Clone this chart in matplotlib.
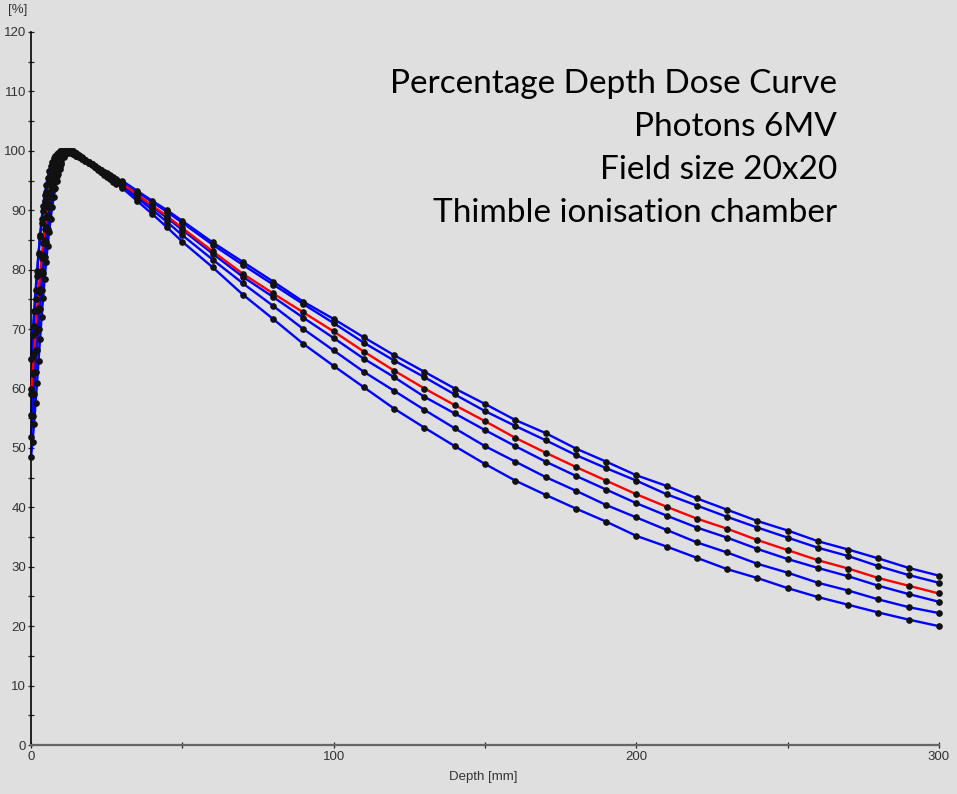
import matplotlib
matplotlib.use("Agg")
import matplotlib.pyplot as plt
from matplotlib.ticker import MultipleLocator

# depth positions of the measured points [mm]
depth = [0, 0.5, 1, 1.5, 2, 2.5, 3, 3.5, 4, 4.5, 5, 5.5, 6, 6.5, 7, 7.5,
         8, 8.5, 9, 9.5, 10,
         11, 12, 13, 14, 15, 16, 17, 18, 19, 20, 21, 22, 23, 24, 25, 26,
         27, 28,
         30, 35, 40, 45, 50, 60, 70, 80, 90, 100, 110, 120, 130, 140, 150,
         160, 170, 180, 190, 200, 210, 220, 230, 240, 250, 260, 270, 280,
         290, 300]

# relative dose [%] for each measured curve (top to bottom at depth)
pdd_a = [60.0, 65.5, 70.5, 75.0, 79.0, 82.7, 85.8, 88.5, 90.7, 92.6, 94.2,
         95.5, 96.6, 97.5, 98.2, 98.8, 99.2, 99.5, 99.7, 99.9, 100.0,
         100.0, 99.9, 99.7, 99.5, 99.2, 98.9, 98.6, 98.3, 98.0, 97.7, 97.4,
         97.1, 96.8, 96.5, 96.2, 95.9, 95.6, 95.3,
         95.0, 93.3, 91.6, 90.0, 88.2, 84.6, 81.3, 78.0, 74.6, 71.7, 68.6,
         65.6, 62.8, 60.0, 57.4, 54.7, 52.5, 49.9, 47.7, 45.4, 43.6, 41.5,
         39.6, 37.7, 36.1, 34.3, 32.9, 31.4, 29.8, 28.5]
pdd_b = [65.0, 69.0, 73.0, 76.5, 79.8, 82.8, 85.5, 87.8, 89.8, 91.6, 93.1,
         94.4, 95.5, 96.5, 97.3, 98.0, 98.6, 99.0, 99.4, 99.7, 99.9,
         100.0, 100.0, 99.8, 99.5, 99.2, 98.9, 98.6, 98.3, 98.0, 97.7, 97.3,
         97.0, 96.7, 96.4, 96.0, 95.7, 95.4, 95.1,
         94.8, 93.1, 91.4, 89.7, 87.9, 84.2, 80.8, 77.5, 74.2, 71.0, 67.7,
         64.7, 61.9, 59.0, 56.2, 53.7, 51.3, 48.8, 46.6, 44.5, 42.2, 40.3,
         38.4, 36.6, 34.9, 33.2, 31.8, 30.1, 28.6, 27.3]
pdd_ref = [59.0, 62.5, 66.0, 69.5, 73.0, 76.3, 79.3, 82.0, 84.5, 86.8, 88.8,
           90.6, 92.2, 93.6, 94.8, 95.8, 96.7, 97.5, 98.1, 98.7, 99.1,
           99.7, 100.0, 100.0, 99.8, 99.5, 99.2, 98.8, 98.5, 98.1, 97.8,
           97.4, 97.0, 96.7, 96.3, 95.9, 95.6, 95.2, 94.9,
           94.5, 92.7, 90.8, 89.0, 87.0, 83.1, 79.3, 76.0, 72.8, 69.6, 66.2,
           63.0, 60.0, 57.2, 54.5, 51.7, 49.2, 46.8, 44.5, 42.2, 40.1, 38.1,
           36.4, 34.5, 32.8, 31.1, 29.7, 28.1, 26.8, 25.5]
pdd_d = [55.5, 59.0, 62.7, 66.4, 70.0, 73.5, 76.8, 79.8, 82.5, 85.0, 87.2,
         89.2, 91.0, 92.6, 94.0, 95.2, 96.2, 97.1, 97.8, 98.4, 98.9,
         99.6, 99.9, 100.0, 99.8, 99.5, 99.2, 98.8, 98.5, 98.1, 97.7, 97.3,
         97.0, 96.6, 96.2, 95.8, 95.5, 95.1, 94.8,
         94.4, 92.5, 90.6, 88.7, 86.7, 82.7, 78.8, 75.4, 71.9, 68.5, 65.0,
         61.9, 58.6, 55.8, 53.0, 50.3, 47.7, 45.3, 43.0, 40.7, 38.6, 36.6,
         34.9, 33.0, 31.3, 29.8, 28.4, 26.8, 25.4, 24.1]
pdd_e = [51.8, 55.3, 59.0, 62.8, 66.5, 70.0, 73.4, 76.6, 79.5, 82.2, 84.6,
         86.8, 88.8, 90.6, 92.2, 93.6, 94.8, 95.8, 96.7, 97.5, 98.1,
         99.1, 99.7, 100.0, 99.9, 99.6, 99.2, 98.8, 98.4, 98.0, 97.6, 97.2,
         96.8, 96.4, 96.0, 95.6, 95.2, 94.8, 94.5,
         94.1, 92.1, 90.1, 88.0, 85.8, 81.7, 77.7, 73.9, 70.0, 66.4, 62.8,
         59.6, 56.4, 53.3, 50.3, 47.7, 45.1, 42.8, 40.4, 38.3, 36.2, 34.1,
         32.4, 30.5, 29.0, 27.3, 26.0, 24.5, 23.2, 22.2]
pdd_f = [48.4, 51.0, 54.0, 57.5, 61.0, 64.7, 68.4, 72.0, 75.3, 78.4, 81.3,
         84.0, 86.4, 88.6, 90.5, 92.2, 93.7, 95.0, 96.1, 97.0, 97.8,
         98.9, 99.6, 100.0, 100.0, 99.7, 99.3, 98.9, 98.4, 98.0, 97.7, 97.3,
         96.9, 96.5, 96.1, 95.7, 95.4, 95.0, 94.6,
         93.8, 91.6, 89.4, 87.1, 84.7, 80.4, 75.8, 71.7, 67.5, 63.8, 60.2,
         56.6, 53.4, 50.3, 47.3, 44.5, 42.1, 39.8, 37.6, 35.2, 33.4, 31.5,
         29.6, 28.1, 26.4, 24.9, 23.6, 22.3, 21.1, 20.0]

blue_curves = [pdd_a, pdd_b, pdd_d, pdd_e, pdd_f]

title_lines = ["Percentage Depth Dose Curve", "Photons 6MV",
               "Field size 20x20", "Thimble ionisation chamber"]

bg = "#dfdfdf"
W, H = 957, 794

fig = plt.figure(figsize=(W / 100, H / 100), dpi=100, facecolor=bg)
ax = fig.add_axes([31 / W, (H - 745) / H, 908 / W, 713 / H], facecolor=bg)

# blue curves first, the red one on top
for vals in blue_curves:
    ax.plot(depth, vals, color="#0000ff", lw=1.7, zorder=2, clip_on=False)
ax.plot(depth, pdd_ref, color="#ff0000", lw=1.7, zorder=3, clip_on=False)
for vals in blue_curves + [pdd_ref]:
    ax.plot(depth, vals, ls="none", marker="o", ms=3.8, mfc="#111111",
            mec="#111111", zorder=4, clip_on=False)

ax.set_xlim(0, 300)
ax.set_ylim(0, 120)

ax.xaxis.set_major_locator(MultipleLocator(100))
ax.xaxis.set_minor_locator(MultipleLocator(50))
ax.yaxis.set_major_locator(MultipleLocator(10))
ax.yaxis.set_minor_locator(MultipleLocator(5))

for s in ["top", "right"]:
    ax.spines[s].set_visible(False)
ax.spines["left"].set_color("black")
ax.spines["left"].set_linewidth(1.2)
ax.spines["bottom"].set_color("#666666")
ax.spines["bottom"].set_linewidth(1.6)

tick_font = {"family": "Liberation Sans", "size": 9.5}
ax.tick_params(which="both", direction="inout", length=5, width=0.9,
               color="#222222", labelcolor="#333333")
ax.tick_params(axis="y", pad=1)
ax.tick_params(axis="x", pad=2)
for lab in ax.get_xticklabels() + ax.get_yticklabels():
    lab.set_fontfamily("Liberation Sans")
    lab.set_fontsize(9.5)

fig.text(18 / W, 1 - 10 / H, "[%]", ha="center", va="center",
         color="#333333", **tick_font)
fig.text(483 / W, 1 - 777 / H, "Depth [mm]", ha="center", va="center",
         color="#333333", **tick_font)

# annotation block, right aligned
for i, line in enumerate(title_lines):
    fig.text(837 / W, 1 - (84 + i * 43) / H, line, ha="right", va="center",
             fontsize=24, family="Lato", color="black")

fig.savefig("out.png", dpi=100, facecolor=bg)
